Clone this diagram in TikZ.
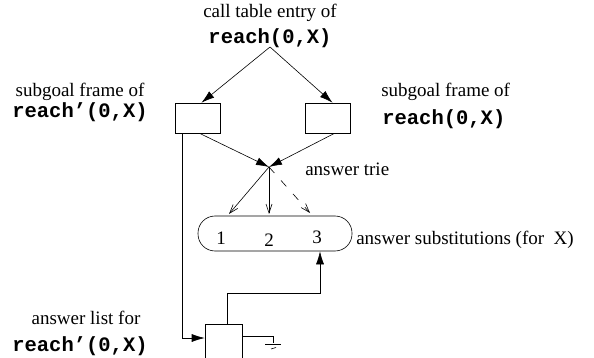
\documentclass[tikz,border=0pt]{standalone}
\usepackage{fontspec}
\setmainfont{Liberation Serif}
\setmonofont{Liberation Mono}
\usetikzlibrary{arrows.meta,positioning}
\tikzset{
  lbl/.style={font=\fontsize{19}{22}\selectfont, inner sep=0pt},
  code/.style={font=\fontsize{20.5}{22}\selectfont\ttfamily\bfseries, inner sep=0pt},
  frame/.style={draw, minimum width=45pt, minimum height=30pt, inner sep=0pt},
  fill arrow/.style={-{Latex[length=13pt,width=8pt]}},
  open arrow/.style={-{Straight Barb[length=9pt,width=6pt]}},
}
\begin{document}
\begin{tikzpicture}[x=1pt,y=-1pt,line width=0.6pt]
  \useasboundingbox (0,0) rectangle (594,358);
  %call table entry
  \node[lbl] (calltxt) at (270,13) {call table entry of};
  \node[code] (callcode) at (270,38) {reach(0,X)};
  \coordinate (apex) at (270,47);
  %subgoal frames
  \node[frame] (frameL) at (197.5,118) {};
  \node[frame] (frameR) at (327.5,118) {};
  \node[lbl] (subLtxt) at (80,92) {subgoal frame of};
  \node[code] (subLcode) at (80,112) {reach’(0,X)};
  \node[lbl, anchor=west] (subRtxt) at (381,92) {subgoal frame of};
  \node[code, anchor=west] (subRcode) at (382,119) {reach(0,X)};
  \draw[fill arrow] (apex) -- ([xshift=4pt]frameL.north);
  \draw[fill arrow] (apex) -- ([xshift=5pt]frameR.north);
  %answer trie
  \coordinate (meet) at (269,167);
  \node[lbl, anchor=west] (trietxt) at (305,169) {answer trie};
  \draw[fill arrow] ([xshift=2pt]frameL.south) -- (meet);
  \draw[fill arrow] ([xshift=7pt]frameR.south) -- (meet);
  %answer substitutions
  \node[draw, rounded corners=17pt, minimum width=154pt, minimum height=35pt] (subst) at (275,233.5) {};
  \node[lbl] (one) at (221,238) {1};
  \node[lbl] (two) at (269,240) {2};
  \node[lbl] (three) at (317,237) {3};
  \node[lbl, anchor=west] (substtxt) at (356,240) {answer substitutions (for\ \ X)};
  \draw[open arrow] (meet) -- (229,214);
  \draw[open arrow] (meet) -- (269,214);
  \draw[open arrow, dashed, dash pattern=on 8pt off 10pt] (meet) -- (310,213);
  %answer list
  \node[draw, minimum width=37pt, minimum height=50pt, inner sep=0pt, anchor=north] (alist) at (223.5,324) {};
  \node[lbl] (listtxt) at (86,318) {answer list for};
  \node[code] (listcode) at (80,346) {reach’(0,X)};
  \draw[fill arrow] ([xshift=8pt]frameL.south west) |- ([yshift=-14pt]alist.north west);
  \draw[fill arrow] ([xshift=3.5pt]alist.north) |- (320,293) -- ([xshift=45pt]subst.south);
  %ground
  \draw ([yshift=-12pt]alist.north east) -| (273,343);
  \draw (265,344) -- (281,344);
  \draw (271,349) -- (276,347.5);
\end{tikzpicture}
\end{document}
